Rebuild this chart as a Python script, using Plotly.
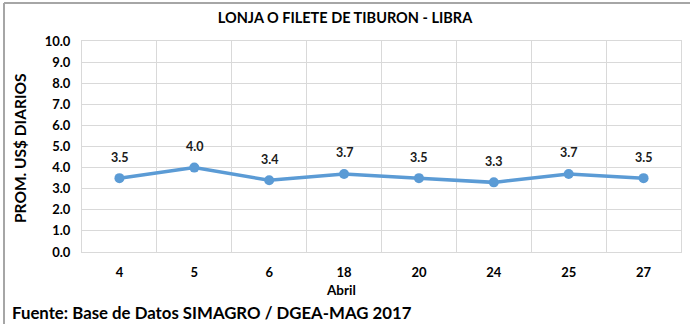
import plotly.graph_objects as go

# Daily average price per pound, April
dias = ["4", "5", "6", "18", "20", "24", "25", "27"]
precios = [3.5, 4.0, 3.4, 3.7, 3.5, 3.3, 3.7, 3.5]
y_ticks = [0, 1, 2, 3, 4, 5, 6, 7, 8, 9, 10]

FONT = "Lato"
GRID = "#d9d9d9"
LINE = "#5b9bd5"
PW, PH = 599, 211  # plot area size in px

fig = go.Figure()
fig.add_trace(go.Scatter(
    x=dias, y=precios, mode="lines+markers",
    line=dict(color=LINE, width=3.5),
    marker=dict(color=LINE, size=10),
    hoverinfo="skip", showlegend=False,
))

# value labels above each point (category index positions)
for i, p in enumerate(precios):
    fig.add_annotation(x=i, y=p, text=f"{p:.1f}", showarrow=False, yshift=21,
                       font=dict(family=FONT, size=12.5, color="#1a1a1a", weight="bold"))

fig.update_layout(
    width=690, height=324,
    margin=dict(l=82, r=9, t=41, b=72),
    paper_bgcolor="white", plot_bgcolor="white",
    font=dict(family=FONT, color="#000000", weight="bold"),
    title=dict(text="LONJA O FILETE DE TIBURON - LIBRA", x=0.5, xanchor="center",
               y=1 - 18 / 324, yanchor="middle",
               font=dict(size=14.5, family=FONT, weight="bold")),
    xaxis=dict(
        type="category", tickson="boundaries", showgrid=True, gridcolor=GRID, gridwidth=1,
        showline=True, linecolor=GRID, mirror=True, ticks="",
        tickfont=dict(size=13, family=FONT, weight="bold"), ticklabelstandoff=8,
        range=[-0.5, 7.5],
    ),
    yaxis=dict(
        range=[0, 10], tickvals=y_ticks, tickformat=".1f",
        showgrid=True, gridcolor=GRID, gridwidth=1, zeroline=False,
        showline=True, linecolor=GRID, mirror=True, ticks="",
        tickfont=dict(size=13, family=FONT, weight="bold"), ticklabelstandoff=8,
    ),
)

# axis titles
fig.add_annotation(xref="paper", yref="paper", x=(341 - 82) / PW, y=-(289.5 - 252) / PH,
                   xanchor="center", yanchor="middle", showarrow=False, text="Abril",
                   font=dict(size=13.5, family=FONT, color="#000000", weight="bold"))
fig.add_annotation(xref="paper", yref="paper", x=(20 - 82) / PW, y=(252 - 148) / PH,
                   xanchor="center", yanchor="middle", showarrow=False, textangle=-90,
                   text="PROM. US$ DIARIOS",
                   font=dict(size=15.5, family=FONT, color="#000000", weight="bold"))

# source note
fig.add_annotation(xref="paper", yref="paper", x=-72 / PW, y=-60 / PH,
                   xanchor="left", yanchor="middle", showarrow=False,
                   text="Fuente: Base de Datos SIMAGRO / DGEA-MAG 2017",
                   font=dict(size=16.8, family=FONT, color="#000000", weight="bold"))

# outer frame lines (top and left)
fig.add_shape(type="line", xref="paper", yref="paper",
              x0=-78 / PW, x1=1 + 9 / PW, y0=1 + 38 / PH, y1=1 + 38 / PH,
              line=dict(color="#a6a6a6", width=2))
fig.add_shape(type="line", xref="paper", yref="paper",
              x0=-78 / PW, x1=-78 / PW, y0=1 + 38 / PH, y1=-72 / PH,
              line=dict(color="#a6a6a6", width=2))

fig.write_html("out.html")
